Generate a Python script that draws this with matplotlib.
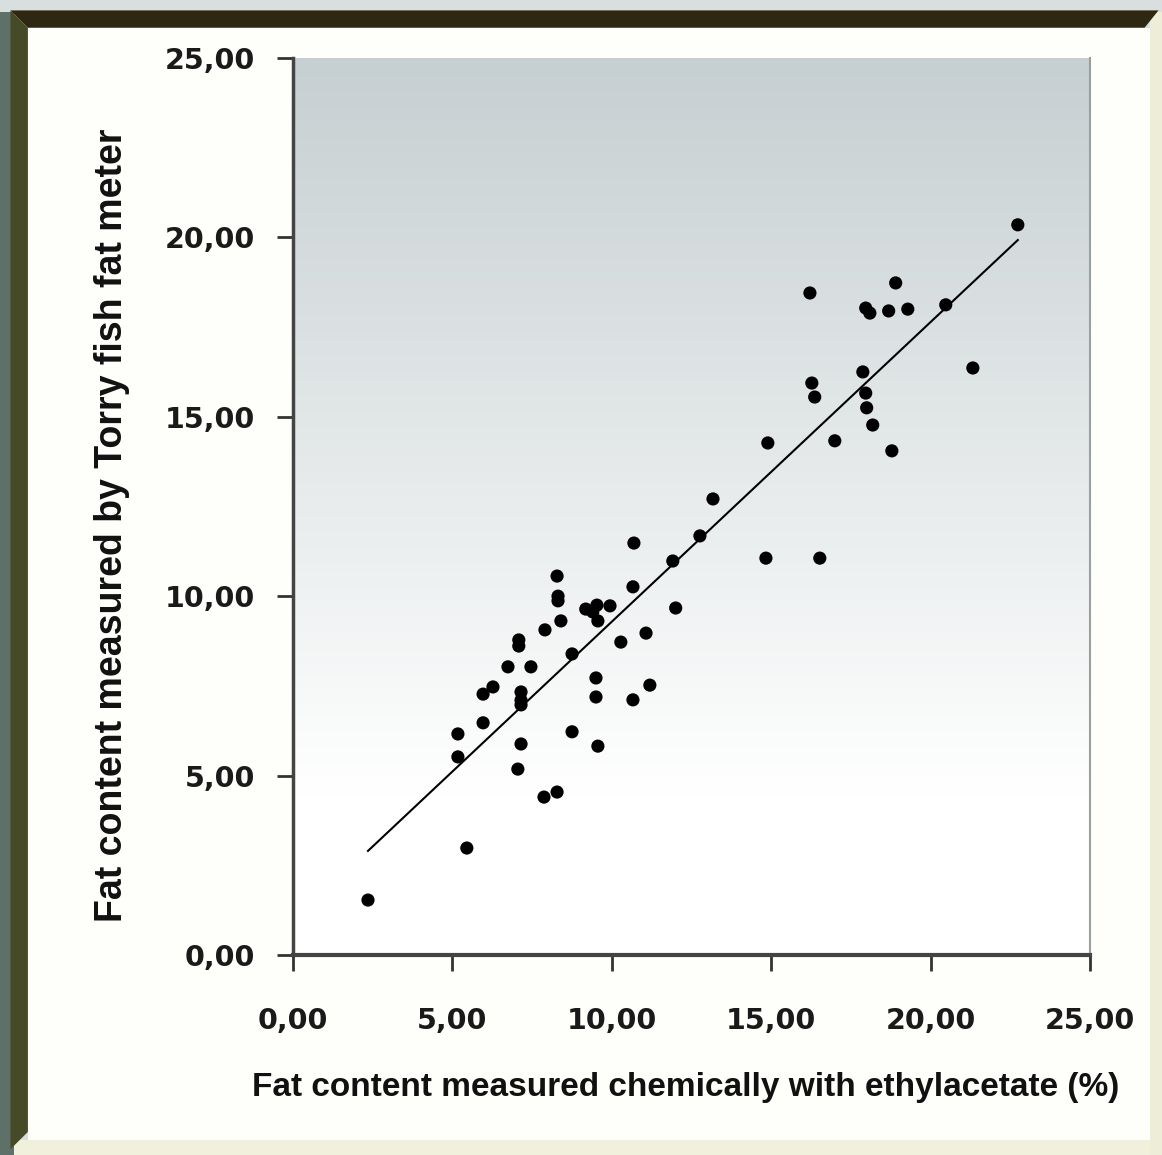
import numpy as np
import matplotlib.pyplot as plt
from matplotlib.patches import Rectangle, Polygon
from matplotlib.ticker import FuncFormatter

# fat content, chemical (x) vs Torry fat meter (y)
chem = [2.35, 5.45, 5.17, 5.17, 5.96, 5.96, 6.27, 6.74, 7.08, 7.08,
        7.15, 7.15, 7.15, 7.15, 7.05, 7.46, 7.90, 7.87, 8.28, 8.28,
        8.31, 8.31, 8.40, 8.75, 8.75, 9.18, 9.40, 9.53, 9.56, 9.50,
        9.50, 9.56, 9.94, 10.28, 10.66, 10.69, 10.66, 11.07, 11.19, 11.91,
        12.00, 12.76, 13.17, 14.83, 14.89, 16.21, 16.27, 16.36, 16.52, 16.99,
        17.87, 17.96, 18.09, 17.96, 17.99, 18.18, 18.68, 18.90, 18.78, 19.28,
        20.47, 21.32, 22.73]
torry = [1.53, 2.98, 5.52, 6.16, 6.47, 7.27, 7.47, 8.03, 8.78, 8.61,
         7.33, 7.10, 6.97, 5.88, 5.18, 8.03, 9.06, 4.40, 4.54, 10.56,
         10.00, 9.87, 9.31, 8.39, 6.22, 9.64, 9.56, 9.75, 9.31, 7.72,
         7.19, 5.82, 9.73, 8.72, 10.26, 11.48, 7.11, 8.97, 7.52, 10.98,
         9.67, 11.68, 12.71, 11.06, 14.27, 18.45, 15.94, 15.55, 11.06, 14.33,
         16.25, 18.03, 17.89, 15.66, 15.25, 14.77, 17.95, 18.73, 14.05, 18.00,
         18.12, 16.36, 20.35]
ticks = [0, 5, 10, 15, 20, 25]

chem = np.array(chem)
torry = np.array(torry)

fig = plt.figure(figsize=(11.62, 11.55), dpi=100)
fig.patch.set_facecolor('white')

# picture frame around the chart
fig.patches.append(Rectangle((0, 0), 1, 1, transform=fig.transFigure,
                             facecolor='#d9dfdf', edgecolor='none', zorder=-10))
fig.patches.append(Rectangle((0.0, 0.0), 0.012, 0.99, transform=fig.transFigure,
                             facecolor='#5f7068', edgecolor='none', zorder=-9))
fig.patches.append(Rectangle((0.012, 0.0), 0.98, 0.013, transform=fig.transFigure,
                             facecolor='#f1f0dc', edgecolor='none', zorder=-9))
fig.patches.append(Rectangle((0.99, 0.0), 0.01, 0.99, transform=fig.transFigure,
                             facecolor='#eeeed8', edgecolor='none', zorder=-9))
fig.patches.append(Rectangle((0.024, 0.013), 0.966, 0.963, transform=fig.transFigure,
                             facecolor='#fefefb', edgecolor='none', zorder=-8))
fig.patches.append(Polygon([(0.009, 0.991), (0.997, 0.991), (0.985, 0.976),
                            (0.024, 0.976)], closed=True, transform=fig.transFigure,
                           facecolor='#2e2712', edgecolor='none', zorder=-7))
fig.patches.append(Polygon([(0.009, 0.991), (0.024, 0.976), (0.024, 0.02),
                            (0.009, 0.005)], closed=True, transform=fig.transFigure,
                           facecolor='#474a26', edgecolor='none', zorder=-7))

ax = fig.add_axes([0.2522, 0.1732, 0.6860, 0.7766])

# grey-blue to white background gradient (top -> bottom)
grad = np.clip(np.linspace(0, 1, 256) / 0.82, 0, 1)[:, None]
top = np.array([0.776, 0.812, 0.820])
bot = np.array([1.0, 1.0, 1.0])
img = top[None, None, :] * (1 - grad[:, :, None]) + bot[None, None, :] * grad[:, :, None]
ax.imshow(img, extent=[0, 25, 0, 25], origin='upper', aspect='auto', zorder=0)
ax.set_xlim(0, 25)
ax.set_ylim(0, 25)

ax.scatter(chem, torry, s=90, color='black', edgecolors='none', zorder=3)

# least-squares line
k, b = np.polyfit(chem, torry, 1)
xl = np.array([chem.min(), chem.max()])
ax.plot(xl, k * xl + b, color='black', lw=1.5, zorder=2)

ax.spines['top'].set_visible(False)
ax.spines['right'].set_color('#9aa0a0')
ax.spines['right'].set_linewidth(1.5)
ax.spines['left'].set_color('#444444')
ax.spines['left'].set_linewidth(2.5)
ax.spines['bottom'].set_color('#444444')
ax.spines['bottom'].set_linewidth(3)

fmt = FuncFormatter(lambda v, p: ('%.2f' % v).replace('.', ','))
ax.set_xticks(ticks)
ax.set_yticks(ticks)
ax.xaxis.set_major_formatter(fmt)
ax.yaxis.set_major_formatter(fmt)
ax.tick_params(axis='x', direction='out', length=11.5, width=2, color='#333333', pad=26)
ax.tick_params(axis='y', direction='out', length=11.5, width=2, color='#333333', pad=16)
for lab in ax.get_xticklabels() + ax.get_yticklabels():
    lab.set_fontsize(20.5)
    lab.set_fontweight('bold')
    lab.set_family(['DejaVu Sans'])
    lab.set_color('#1a1a1a')

ax.set_xlabel('Fat content measured chemically with ethylacetate (%)', fontsize=24,
              fontweight='bold', family=['Liberation Sans'], color='#111111')
ax.set_ylabel('Fat content measured by Torry fish fat meter', fontsize=27,
              fontweight='bold', family=['Liberation Sans'], color='#111111')
ax.xaxis.set_label_coords(0.492, -0.131)
ax.yaxis.set_label_coords(-0.205, 0.479)

fig.savefig('out.png', dpi=100)
